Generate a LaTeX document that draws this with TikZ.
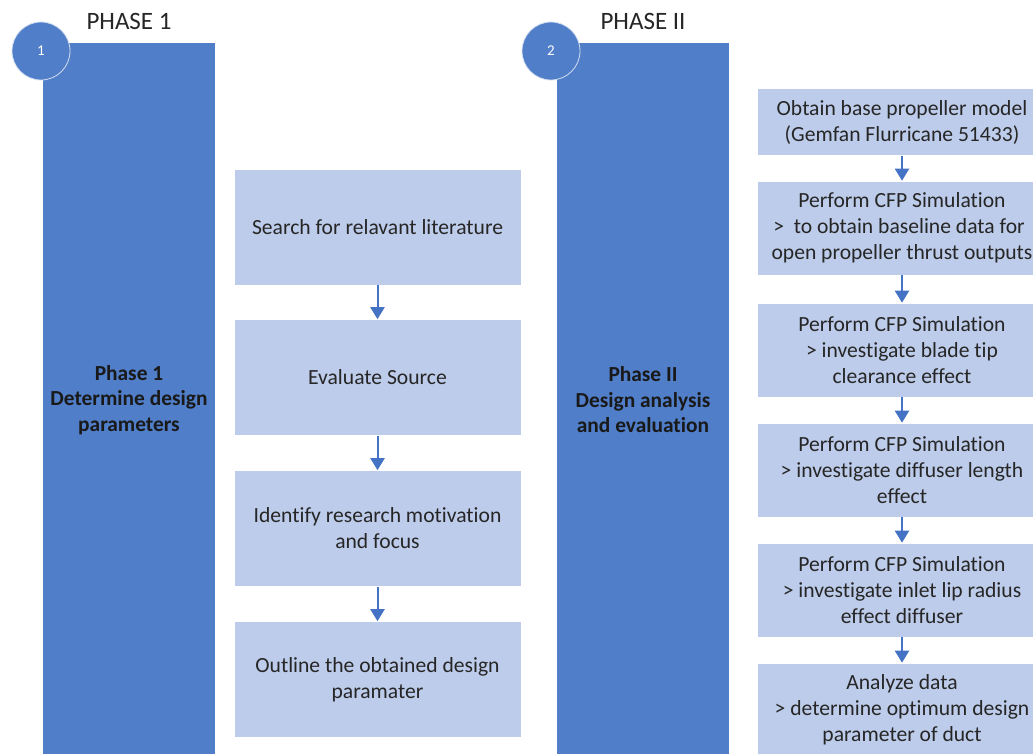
\documentclass[tikz,border=0pt]{standalone}
\usepackage{fontspec}
\setmainfont[RawFeature=-liga]{Carlito}
\usetikzlibrary{arrows.meta}
\definecolor{barblue}{RGB}{80,126,200}
\definecolor{boxblue}{RGB}{189,204,234}
\definecolor{arrowblue}{RGB}{68,114,196}
\definecolor{txt}{RGB}{38,38,38}
\tikzset{
  phasebar/.style={fill=barblue, draw=none, inner sep=0pt},
  stepbox/.style={fill=boxblue, draw=white, line width=0.6pt, inner sep=0pt, align=center, text=txt,
     font=\fontsize{21.6}{26}\selectfont},
  numcircle/.style={circle, fill=barblue, draw=white!75!barblue, line width=0.8pt, minimum size=58pt, inner sep=0pt,
     text=white, font=\fontsize{15}{17}\selectfont},
  phasetitle/.style={text=txt, font=\fontsize{25}{28}\selectfont, inner sep=0pt},
  bartext/.style={text=black!90, font=\bfseries\fontsize{21.4}{25.5}\selectfont, align=center, inner sep=0pt},
  flow/.style={draw=arrowblue, line width=2pt, -{Triangle[width=14pt,length=12pt]}}
}
\begin{document}
\begin{tikzpicture}[x=1pt,y=-1pt]
\clip (0,0) rectangle (1033,753);
\fill[white] (0,0) rectangle (1033,753);
% phase bars
\path[phasebar] (43,43) rectangle (215,760);
\path[phasebar] (557,43) rectangle (729,760);
\node[numcircle] (c1) at (41,51) {1};
\node[numcircle] (c2) at (551,51) {2};
\node[phasetitle] (t1) at (129,21) {PHASE 1};
\node[phasetitle] (t2) at (643,21) {PHASE II};
\node[bartext] (b1) at (129,400) {Phase 1\\Determine design\\parameters};
\node[bartext] (b2) at (643,400) {Phase II\\Design analysis\\and evaluation};
% left steps
\node[stepbox, minimum width=287pt, minimum height=116pt] (l1) at (377.5,227) {Search for relavant literature};
\node[stepbox, minimum width=287pt, minimum height=116pt] (l2) at (377.5,377.5) {Evaluate Source};
\node[stepbox, minimum width=287pt, minimum height=116pt] (l3) at (377.5,528.5) {Identify research motivation\\and focus};
\node[stepbox, minimum width=287pt, minimum height=116pt] (l4) at (377.5,679.5) {Outline the obtained design\\paramater};
\draw[flow] (l1) -- (l2);
\draw[flow] (l2) -- (l3);
\draw[flow] (l3) -- (l4);
% right steps
\node[stepbox, minimum width=290pt, minimum height=67pt] (r1) at (902,122) {Obtain base propeller model\\(Gemfan Flurricane 51433)};
\node[stepbox, minimum width=290pt, minimum height=94pt] (r2) at (902,228) {Perform CFP Simulation\\\hspace*{-6pt}>\ \ to obtain baseline data for\\open propeller thrust outputs};
\node[stepbox, minimum width=290pt, minimum height=94pt] (r3) at (902,350) {Perform CFP Simulation\\> investigate blade tip\\clearance effect};
\node[stepbox, minimum width=290pt, minimum height=94pt] (r4) at (902,470) {Perform CFP Simulation\\> investigate diffuser length\\effect};
\node[stepbox, minimum width=290pt, minimum height=94pt] (r5) at (902,590) {Perform CFP Simulation\\> investigate inlet lip radius\\effect diffuser};
\node[stepbox, minimum width=290pt, minimum height=94pt] (r6) at (902,710) {Analyze data\\> determine optimum design\\parameter of duct};
\draw[flow] (r1) -- (r2);
\draw[flow] (r2) -- (r3);
\draw[flow] (r3) -- (r4);
\draw[flow] (r4) -- (r5);
\draw[flow] (r5) -- (r6);
\end{tikzpicture}
\end{document}
